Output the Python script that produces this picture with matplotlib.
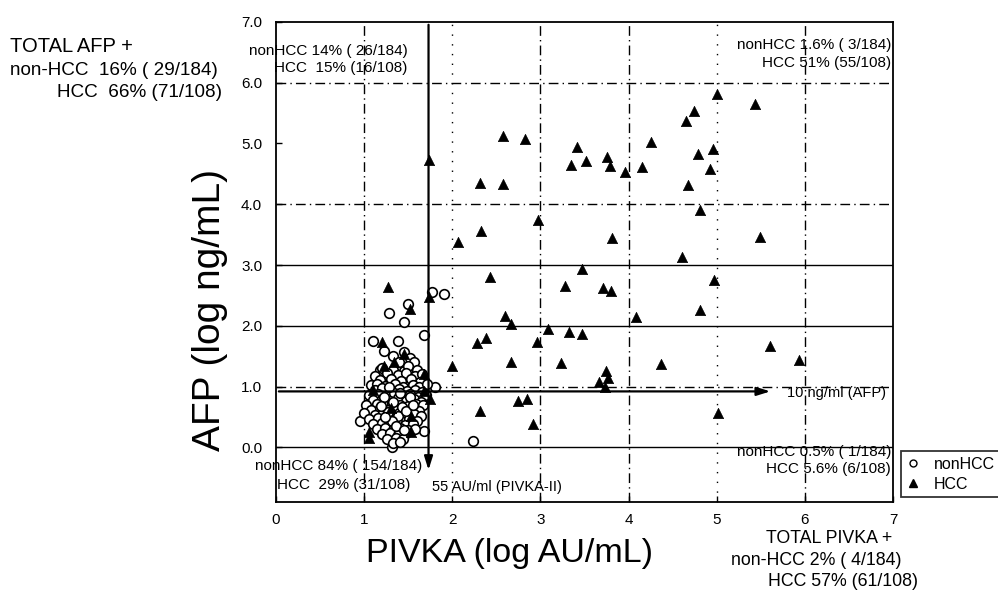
import numpy as np
import matplotlib
matplotlib.use("Agg")
import matplotlib.pyplot as plt
from matplotlib.lines import Line2D

plt.rcParams['font.family'] = ['Liberation Sans', 'DejaVu Sans']

# HCC patients (log PIVKA, log AFP)
hcc = [
    (2.57, 5.12), (2.83, 5.07), (3.42, 4.94), (3.52, 4.72), (3.35, 4.64), (3.76, 4.78),
    (3.79, 4.63), (3.96, 4.53), (4.15, 4.61), (4.25, 5.02), (2.31, 4.35), (2.57, 4.34),
    (2.97, 3.74), (2.32, 3.56), (2.07, 3.38), (3.81, 3.44), (5.00, 5.81), (5.43, 5.65),
    (4.74, 5.54), (4.65, 5.37), (4.79, 4.83), (4.96, 4.91), (4.92, 4.58), (4.67, 4.32),
    (4.81, 3.90), (5.49, 3.46), (4.61, 3.14), (2.43, 2.80), (3.47, 2.93), (3.28, 2.66),
    (3.71, 2.62), (3.80, 2.58), (4.08, 2.14), (2.60, 2.16), (2.67, 2.03), (3.08, 1.95),
    (3.32, 1.90), (3.47, 1.86), (2.96, 1.73), (2.38, 1.80), (2.28, 1.72), (2.00, 1.34),
    (2.67, 1.40), (3.23, 1.39), (3.74, 1.25), (3.77, 1.14), (3.66, 1.07), (3.73, 0.99),
    (2.74, 0.77), (2.85, 0.79), (2.31, 0.60), (2.92, 0.38), (4.97, 2.75), (4.81, 2.26),
    (5.61, 1.66), (5.93, 1.43), (4.37, 1.37), (5.02, 0.56), (1.74, 4.73), (1.73, 2.47),
    (1.27, 2.64), (1.52, 2.28), (1.20, 1.74), (1.34, 1.41), (1.45, 1.54), (1.23, 1.34),
    (1.68, 1.21), (1.10, 0.94), (1.68, 0.93), (1.75, 0.79), (1.53, 0.51), (1.53, 0.26),
    (1.06, 0.15), (1.06, 0.25), (1.30, 0.65),
]

# non-HCC patients
nonhcc = [
    (1.28, 2.21), (1.50, 2.36), (1.45, 2.06), (1.77, 2.56), (1.90, 2.53), (1.68, 1.85),
    (1.10, 1.75), (1.38, 1.75), (1.23, 1.58), (1.33, 1.50), (1.45, 1.57), (1.52, 1.47),
    (1.56, 1.40), (1.39, 1.40), (1.18, 1.27), (1.45, 1.25), (1.80, 0.99), (0.95, 0.44),
    (1.68, 0.27), (1.31, 0.00), (2.23, 0.10),
    (1.20, 1.31), (1.33, 1.28), (1.50, 1.33), (1.60, 1.27),
    (1.12, 1.18), (1.26, 1.22), (1.38, 1.19), (1.47, 1.23), (1.58, 1.17), (1.66, 1.21),
    (1.18, 1.10), (1.30, 1.13), (1.42, 1.09), (1.53, 1.12), (1.63, 1.08),
    (1.08, 1.02), (1.15, 1.05), (1.24, 1.01), (1.35, 1.04), (1.44, 1.00), (1.55, 1.03),
    (1.62, 0.99), (1.71, 1.04),
    (1.12, 0.94), (1.20, 0.97), (1.30, 0.93), (1.40, 0.96), (1.49, 0.92), (1.58, 0.95),
    (1.66, 0.91),
    (1.05, 0.86), (1.16, 0.88), (1.25, 0.85), (1.34, 0.89), (1.45, 0.84), (1.52, 0.87),
    (1.61, 0.83), (1.70, 0.86),
    (1.10, 0.78), (1.20, 0.80), (1.29, 0.76), (1.38, 0.81), (1.47, 0.77), (1.56, 0.79),
    (1.64, 0.75),
    (1.02, 0.70), (1.14, 0.72), (1.23, 0.69), (1.32, 0.73), (1.41, 0.70), (1.50, 0.68),
    (1.59, 0.72), (1.67, 0.69),
    (1.08, 0.62), (1.18, 0.64), (1.27, 0.61), (1.36, 0.65), (1.44, 0.60), (1.53, 0.63),
    (1.62, 0.59),
    (1.00, 0.56), (1.12, 0.53), (1.21, 0.57), (1.30, 0.54), (1.39, 0.56), (1.47, 0.52),
    (1.56, 0.55), (1.65, 0.51),
    (1.06, 0.46), (1.16, 0.48), (1.25, 0.45), (1.34, 0.49), (1.42, 0.44), (1.51, 0.47),
    (1.60, 0.43),
    (1.10, 0.38), (1.20, 0.40), (1.29, 0.37), (1.37, 0.41), (1.46, 0.36), (1.55, 0.39),
    (1.14, 0.30), (1.24, 0.32), (1.33, 0.29), (1.41, 0.31), (1.50, 0.28), (1.58, 0.30),
    (1.20, 0.22), (1.29, 0.24), (1.38, 0.21), (1.47, 0.23),
    (1.26, 0.14), (1.36, 0.16), (1.44, 0.13),
    (1.33, 0.07), (1.41, 0.09),
    (1.22, 0.83), (1.33, 0.75), (1.43, 0.67), (1.27, 0.58), (1.38, 0.51), (1.48, 0.60),
    (1.31, 0.43), (1.19, 0.68), (1.52, 0.83), (1.41, 0.90), (1.28, 0.99), (1.36, 0.35),
    (1.45, 0.28), (1.24, 0.50), (1.55, 0.70),
]

pivka_cut = 1.73   # 55 AU/ml, as drawn
afp_cut = 0.92     # 10 ng/ml, as drawn

x_ticks = [0, 1, 2, 3, 4, 5, 6, 7]
y_ticks = [0, 1, 2, 3, 4, 5, 6, 7]
y_tick_labels = ['0.0', '1.0', '2.0', '3.0', '4.0', '5.0', '6.0', '7.0']

quad_top_left = ['nonHCC 14% ( 26/184)', 'HCC  15% (16/108)']
quad_top_right = ['nonHCC 1.6% ( 3/184)', 'HCC 51% (55/108)']
quad_bot_left = ['nonHCC 84% ( 154/184)', 'HCC  29% (31/108)']
quad_bot_right = ['nonHCC 0.5% ( 1/184)', 'HCC 5.6% (6/108)']
total_afp = ['TOTAL AFP +', 'non-HCC  16% ( 29/184)', 'HCC  66% (71/108)']
total_pivka = ['TOTAL PIVKA +', 'non-HCC 2% ( 4/184)', 'HCC 57% (61/108)']

fig = plt.figure(figsize=(9.98, 5.94), dpi=100)
ax = fig.add_axes([0.2766, 0.1549, 0.6182, 0.8081])

# grid: mixture of solid, dash-dot and dotted lines like the original
dashdot = (0, (7, 3, 1, 3))
h_styles = {0: '-', 1: dashdot, 2: '-', 3: '-', 4: dashdot, 6: dashdot}
v_styles = {1: dashdot, 2: (0, (1, 6)), 3: dashdot, 4: dashdot, 5: (0, (1, 6)), 6: dashdot}
for y, ls in h_styles.items():
    ax.axhline(y, color='black', lw=1.0, ls=ls, zorder=1)
for x, ls in v_styles.items():
    ax.axvline(x, color='black', lw=1.0, ls=ls, zorder=1)

nh = np.array(nonhcc)
hc = np.array(hcc)
ax.scatter(nh[:, 0], nh[:, 1], marker='o', s=48, facecolor='white',
           edgecolor='black', linewidth=1.2, zorder=3)
ax.scatter(hc[:, 0], hc[:, 1], marker='^', s=55, facecolor='black',
           edgecolor='black', linewidth=0.5, zorder=4)

# cut-off arrows
arrow = dict(arrowstyle='-|>,head_length=0.8,head_width=0.25', color='black', lw=1.6)
ax.annotate('', xy=(pivka_cut, -0.42), xytext=(pivka_cut, 7.0), arrowprops=arrow, zorder=5)
ax.annotate('', xy=(5.64, afp_cut), xytext=(0.0, afp_cut), arrowprops=arrow, zorder=5)
ax.text(5.80, afp_cut - 0.02, '10 ng/ml (AFP)', fontsize=10.5, va='center', ha='left')
ax.text(1.77, -0.65, '55 AU/ml (PIVKA-II)', fontsize=10.5, va='center', ha='left')

# quadrant percentages
tfs = 11
ax.text(1.49, 6.52, quad_top_left[0], fontsize=tfs, ha='right', va='center')
ax.text(1.49, 6.25, quad_top_left[1], fontsize=tfs, ha='right', va='center')
ax.text(6.98, 6.62, quad_top_right[0], fontsize=tfs, ha='right', va='center')
ax.text(6.98, 6.33, quad_top_right[1], fontsize=tfs, ha='right', va='center')
ax.text(-0.24, -0.31, quad_bot_left[0], fontsize=tfs, ha='left', va='center')
ax.text(0.01, -0.62, quad_bot_left[1], fontsize=tfs, ha='left', va='center')
ax.text(6.98, -0.08, quad_bot_right[0], fontsize=tfs, ha='right', va='center')
ax.text(6.98, -0.36, quad_bot_right[1], fontsize=tfs, ha='right', va='center')

ax.set_xlim(0, 7)
ax.set_ylim(-0.9, 7.0)
ax.set_xticks(x_ticks)
ax.set_xticklabels([str(t) for t in x_ticks])
ax.set_yticks(y_ticks)
ax.set_yticklabels(y_tick_labels)
ax.tick_params(direction='in', length=4, width=1, labelsize=11)
ax.tick_params(axis='y', pad=10)
ax.tick_params(axis='x', pad=8)
for sp in ax.spines.values():
    sp.set_linewidth(1.3)
    sp.set_color('black')

fig.text(0.210, 0.478, 'AFP (log ng/mL)', rotation=90, fontsize=28,
         ha='center', va='center')
fig.text(0.511, 0.069, 'PIVKA (log AU/mL)', fontsize=24.5, ha='center', va='center')

# totals outside the plot
fig.text(0.010, 0.921, total_afp[0], fontsize=14.5, ha='left', va='center')
fig.text(0.010, 0.882, total_afp[1], fontsize=13.6, ha='left', va='center')
fig.text(0.2224, 0.845, total_afp[2], fontsize=13.6, ha='right', va='center')
fig.text(0.7675, 0.093, total_pivka[0], fontsize=12.8, ha='left', va='center')
fig.text(0.7325, 0.057, total_pivka[1], fontsize=12.8, ha='left', va='center')
fig.text(0.7695, 0.021, total_pivka[2], fontsize=12.8, ha='left', va='center')

handles = [
    Line2D([], [], marker='o', ls='none', markersize=5, markerfacecolor='white',
           markeredgecolor='black', label='nonHCC'),
    Line2D([], [], marker='^', ls='none', markersize=6, markerfacecolor='black',
           markeredgecolor='black', label='HCC'),
]
leg = fig.legend(handles=handles, loc='upper left', bbox_to_anchor=(0.903, 0.240),
                 frameon=True, fancybox=False, edgecolor='black', fontsize=11.5,
                 handlelength=0.8, handletextpad=0.9, borderpad=0.35, labelspacing=0.3,
                 borderaxespad=0)
leg.get_frame().set_linewidth(1.3)

fig.savefig('out.png', dpi=100)
